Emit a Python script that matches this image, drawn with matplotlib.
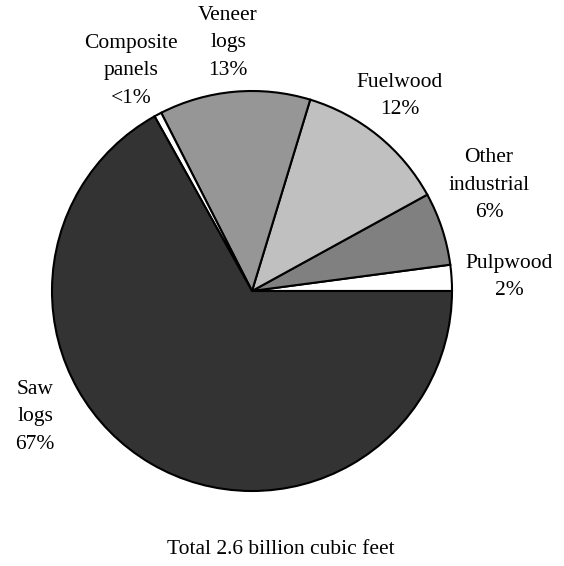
import matplotlib.pyplot as plt

# shares, counter-clockwise from 3 o'clock
names = ["Pulpwood", "Other industrial", "Fuelwood", "Veneer logs",
         "Composite panels", "Saw logs"]
shares = [2.1, 5.9, 12.3, 12.2, 0.6, 66.9]
labels = ["Pulpwood\n2%", "Other\nindustrial\n6%", "Fuelwood\n12%",
          "Veneer\nlogs\n13%", "Composite\npanels\n<1%", "Saw\nlogs\n67%"]
colors = ["#ffffff", "#808080", "#c0c0c0", "#969696", "#ffffff", "#333333"]
total_text = "Total 2.6 billion cubic feet"

plt.rcParams['font.family'] = ['Liberation Serif', 'DejaVu Serif']

fig = plt.figure(figsize=(5.64, 5.66), dpi=100)
ax = fig.add_axes([0, 0, 1, 1])
ax.pie(shares, colors=colors, startangle=0, counterclock=True,
       wedgeprops=dict(edgecolor="black", linewidth=1.5))
ax.set_xlim(-1.26, 1.56)
ax.set_ylim(-1.375, 1.455)
ax.set_aspect("equal")
ax.axis("off")

label_pos = [(1.285, 0.07), (1.185, 0.53), (0.74, 0.975),
             (-0.12, 1.24), (-0.605, 1.10), (-1.085, -0.63)]
for lab, (x, y) in zip(labels, label_pos):
    ax.text(x, y, lab, ha="center", va="center", fontsize=15.5, linespacing=1.6)

ax.text(0.145, -1.29, total_text, ha="center", va="center", fontsize=15.5)

plt.savefig("out.png")
